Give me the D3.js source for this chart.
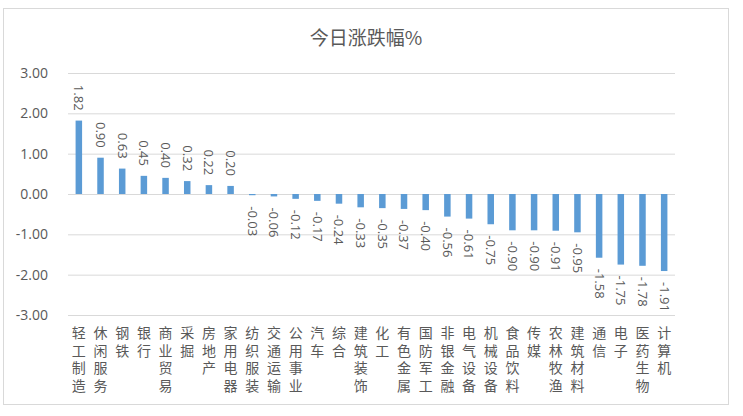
<!DOCTYPE html>
<html><head><meta charset="utf-8">
<script src="https://cdn.jsdelivr.net/npm/d3@7"></script>
<style>body{margin:0;background:#fff;}svg{display:block;}</style>
</head><body><svg id="c" width="743" height="416"></svg>
<script>
const categories = ["轻工制造","休闲服务","钢铁","银行","商业贸易","采掘","房地产","家用电器","纺织服装","交通运输","公用事业","汽车","综合","建筑装饰","化工","有色金属","国防军工","非银金融","电气设备","机械设备","食品饮料","传媒","农林牧渔","建筑材料","通信","电子","医药生物","计算机"];
const values = [1.82,0.90,0.63,0.45,0.40,0.32,0.22,0.20,-0.03,-0.06,-0.12,-0.17,-0.24,-0.33,-0.35,-0.37,-0.40,-0.56,-0.61,-0.75,-0.90,-0.90,-0.91,-0.95,-1.58,-1.75,-1.78,-1.91];
const yTicks = [3,2,1,0,-1,-2,-3];
const title = "今日涨跌幅%";

const svg = d3.select("#c");
const txt = "#595959";
const font = "'Noto Sans CJK SC','Noto Sans',sans-serif";
const numFont = "'Open Sans','Noto Sans',sans-serif";
const fmt = d => d3.format(".2f")(d).replace("\u2212","-");

svg.append("rect").attr("x",3.5).attr("y",8.5).attr("width",725).attr("height",396)
  .attr("fill","#fff").attr("stroke","#d9d9d9");

svg.append("text").attr("x",366).attr("y",45).attr("text-anchor","middle")
  .attr("font-family",font).attr("font-size",19).attr("fill",txt).text(title);

const x = d3.scaleBand().domain(categories).range([68,675]).paddingInner(0.7).paddingOuter(0.35);
const y = d3.scaleLinear().domain([-3,3]).range([315,73]);

const yAxis = svg.append("g").attr("transform","translate(68,0)")
  .call(d3.axisLeft(y).tickValues(yTicks).tickFormat(fmt).tickSize(-607).tickPadding(20));
yAxis.select(".domain").remove();
yAxis.selectAll(".tick line").attr("stroke","#d9d9d9");
yAxis.selectAll(".tick text").attr("fill",txt).attr("font-size",14).attr("font-family",numFont);

svg.append("g").selectAll("rect").data(values).join("rect")
  .attr("x",(d,i)=>x(categories[i]))
  .attr("width",x.bandwidth())
  .attr("y",d=>y(Math.max(0,d)))
  .attr("height",d=>Math.abs(y(d)-y(0)))
  .attr("fill","#5b9bd5");

// data labels, rotated
svg.append("g").selectAll("text").data(values).join("text")
  .attr("transform",(d,i)=>{
    const cx = x(categories[i]) + x.bandwidth()/2;
    const cy = d>=0 ? y(d)-10 : y(d)+11;
    return `translate(${cx},${cy}) rotate(90)`;
  })
  .attr("text-anchor",d=>d>=0?"end":"start")
  .attr("dy","0.35em")
  .attr("font-family",numFont).attr("font-size",13).attr("fill",txt)
  .text(d=>fmt(d));

// category labels, one character per line
const cg = svg.append("g");
categories.forEach((c,i)=>{
  const cx = x(c) + x.bandwidth()/2;
  Array.from(c).forEach((ch,j)=>{
    cg.append("text").attr("text-anchor","middle")
      .attr("font-family",font).attr("font-size",14).attr("fill",txt)
      .attr("x",cx).attr("y",338+j*17.5).text(ch);
  });
});
</script></body></html>
